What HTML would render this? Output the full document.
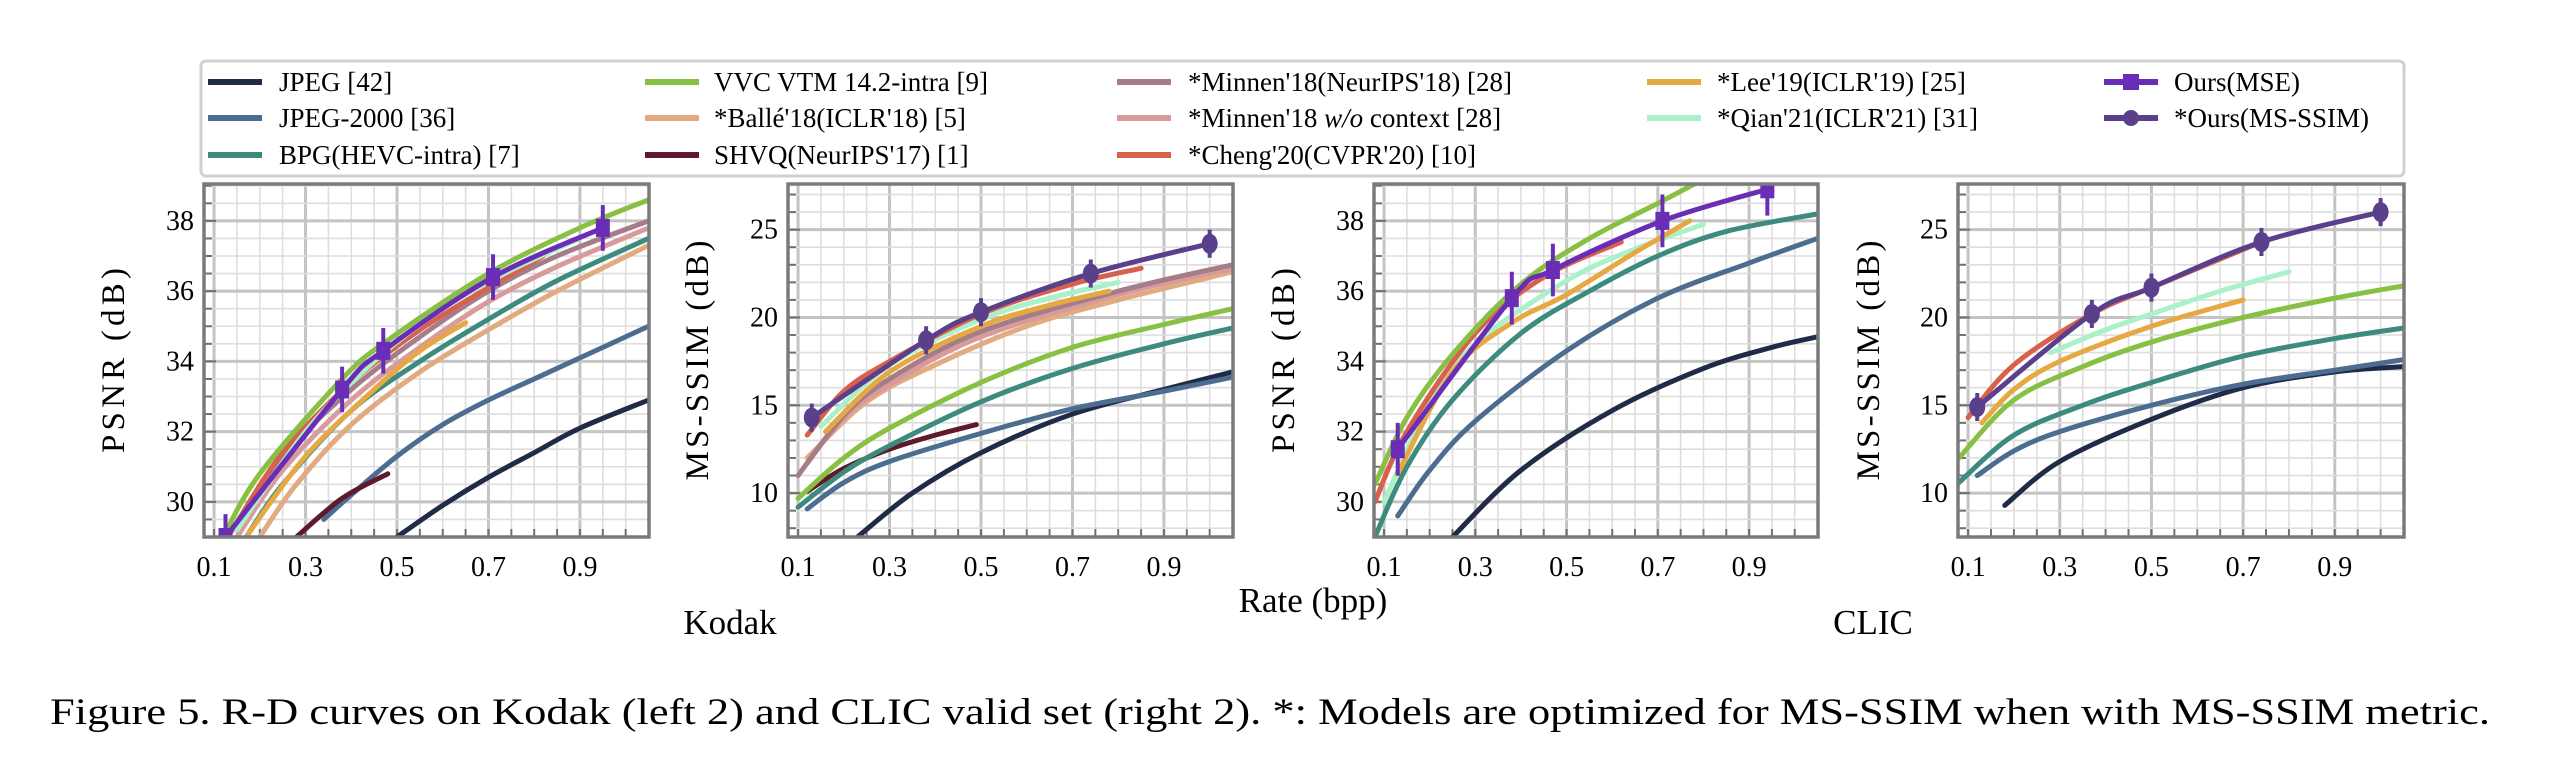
<!DOCTYPE html>
<html><head><meta charset="utf-8">
<style>
html,body{margin:0;padding:0;background:#fff;}
svg{display:block;font-family:"Liberation Serif",serif;}
</style></head>
<body>
<svg id="fig" width="2558" height="758" viewBox="0 0 2558 758" xmlns="http://www.w3.org/2000/svg">
  <g>
    <rect x="201" y="61" width="2203" height="115" rx="5" fill="#fff" stroke="#d0d0d0" stroke-width="3"/>
    <g id="legend-items"></g>
  </g>
  <g id="panels"></g>
  <text x="730" y="634" font-size="35" text-anchor="middle">Kodak</text>
  <text x="1313" y="612" font-size="35" text-anchor="middle">Rate (bpp)</text>
  <text x="1873" y="634" font-size="35" text-anchor="middle">CLIC</text>
  <text x="50" y="724" font-size="37" textLength="2440" lengthAdjust="spacingAndGlyphs">Figure 5. R-D curves on Kodak (left 2) and CLIC valid set (right 2). *: Models are optimized for MS-SSIM when with MS-SSIM metric.</text>
</svg>
<script>
// ---- series names / colors ----
const seriesNames = ["JPEG [42]","JPEG-2000 [36]","BPG(HEVC-intra) [7]","VVC VTM 14.2-intra [9]","*Ballé'18(ICLR'18) [5]","SHVQ(NeurIPS'17) [1]","*Minnen'18(NeurIPS'18) [28]","*Minnen'18 w/o context [28]","*Cheng'20(CVPR'20) [10]","*Lee'19(ICLR'19) [25]","*Qian'21(ICLR'21) [31]","Ours(MSE)","*Ours(MS-SSIM)"];
const seriesColors = ["#1f2b47","#4c6d8f","#3d8a7f","#88c043","#e2aa80","#5e1a2c","#a57d88","#d99a9c","#d9604b","#e6a843","#aaf0c9","#6a2db5","#5a408a"];

// ---- data per panel: [x values, y values] ----
// Panel 1: Kodak PSNR
const k1_jpeg_x=[0.5,0.6,0.7,0.8,0.9,1.05], k1_jpeg_y=[29.0,29.9,30.7,31.4,32.1,32.9];
const k1_j2k_x=[0.34,0.4,0.5,0.6,0.7,0.8,0.9,1.05], k1_j2k_y=[29.5,30.2,31.3,32.2,32.9,33.5,34.1,35.0];
const k1_bpg_x=[0.17,0.25,0.4,0.55,0.7,0.85,1.05], k1_bpg_y=[29.0,30.5,32.6,34.0,35.2,36.3,37.5];
const k1_vvc_x=[0.12,0.2,0.38,0.48,0.7,0.9,1.05], k1_vvc_y=[29.0,30.8,33.5,34.6,36.5,37.8,38.6];
const k1_balle_x=[0.2,0.28,0.4,0.55,0.7,0.85,1.05], k1_balle_y=[29.0,30.5,32.2,33.7,34.9,36.0,37.3];
const k1_shvq_x=[0.28,0.38,0.48], k1_shvq_y=[29.0,30.1,30.8];
const k1_minnen_x=[0.13,0.25,0.4,0.55,0.7,0.85,1.05], k1_minnen_y=[29.0,31.3,33.2,34.7,36.0,37.0,38.0];
const k1_minnenwo_x=[0.15,0.25,0.4,0.55,0.7,0.85,1.05], k1_minnenwo_y=[29.0,30.9,32.9,34.4,35.7,36.7,37.8];
const k1_cheng_x=[0.14,0.25,0.4,0.55,0.7,0.82], k1_cheng_y=[29.2,31.4,33.4,34.9,36.1,37.0];
const k1_lee_x=[0.17,0.3,0.45,0.55,0.65], k1_lee_y=[29.0,31.3,33.2,34.3,35.1];
const k1_qian_x=[0.15,0.3,0.45,0.6,0.75,0.9], k1_qian_y=[29.2,32.0,34.0,35.5,36.6,37.5];
const k1_ours_x=[0.125,0.38,0.47,0.71,0.95], k1_ours_y=[29.0,33.2,34.3,36.4,37.8];
// Panel 2: Kodak MS-SSIM
const k2_jpeg_x=[0.23,0.35,0.5,0.7,0.9,1.05], k2_jpeg_y=[7.5,10.0,12.3,14.5,15.9,16.9];
const k2_j2k_x=[0.12,0.2,0.3,0.5,0.7,0.9,1.05], k2_j2k_y=[9.1,10.6,11.8,13.4,14.8,15.8,16.6];
const k2_bpg_x=[0.1,0.2,0.3,0.5,0.7,0.9,1.05], k2_bpg_y=[9.2,11.2,12.7,15.2,17.1,18.5,19.4];
const k2_vvc_x=[0.1,0.2,0.3,0.5,0.7,0.9,1.05], k2_vvc_y=[9.7,12.0,13.7,16.3,18.3,19.6,20.5];
const k2_balle_x=[0.12,0.25,0.4,0.6,0.8,1.05], k2_balle_y=[12.0,15.2,17.3,19.5,21.0,22.6];
const k2_shvq_x=[0.12,0.2,0.3,0.4,0.49], k2_shvq_y=[10.1,11.4,12.5,13.3,13.9];
const k2_minnen_x=[0.1,0.2,0.3,0.5,0.8,1.05], k2_minnen_y=[11.0,14.4,16.5,19.2,21.5,23.0];
const k2_minnenwo_x=[0.12,0.2,0.3,0.5,0.8,1.05], k2_minnenwo_y=[11.7,14.3,16.2,18.9,21.3,22.8];
const k2_cheng_x=[0.12,0.2,0.3,0.5,0.7,0.85], k2_cheng_y=[13.3,15.8,17.5,20.2,21.9,22.8];
const k2_lee_x=[0.16,0.3,0.5,0.65,0.78], k2_lee_y=[13.5,16.9,19.5,20.7,21.5];
const k2_qian_x=[0.15,0.3,0.5,0.65,0.8], k2_qian_y=[13.8,17.3,19.9,21.1,22.0];
const k2_ours_x=[0.13,0.38,0.5,0.74,1.0], k2_ours_y=[14.3,18.7,20.3,22.5,24.2];
// Panel 3: CLIC PSNR
const c1_jpeg_x=[0.25,0.4,0.6,0.8,0.95,1.05], c1_jpeg_y=[29.0,30.9,32.6,33.8,34.4,34.7];
const c1_j2k_x=[0.13,0.2,0.3,0.5,0.7,0.9,1.05], c1_j2k_y=[29.6,30.9,32.3,34.3,35.8,36.8,37.5];
const c1_bpg_x=[0.08,0.15,0.25,0.4,0.55,0.7,0.85,1.05], c1_bpg_y=[29.0,31.0,32.9,34.8,36.0,37.0,37.7,38.2];
const c1_vvc_x=[0.08,0.15,0.25,0.4,0.55,0.7,0.78], c1_vvc_y=[30.5,32.4,34.2,36.2,37.5,38.5,39.05];
const c1_cheng_x=[0.08,0.15,0.3,0.45,0.62], c1_cheng_y=[30.0,32.0,34.8,36.4,37.4];
const c1_lee_x=[0.13,0.25,0.38,0.5,0.65,0.77], c1_lee_y=[30.8,33.7,35.1,35.9,37.1,38.0];
const c1_qian_x=[0.1,0.2,0.3,0.5,0.65,0.8], c1_qian_y=[30.0,32.8,34.5,36.3,37.2,37.9];
const c1_ours_x=[0.13,0.38,0.47,0.71,0.94], c1_ours_y=[31.5,35.8,36.6,38.0,38.9];
// Panel 4: CLIC MS-SSIM
const c2_jpeg_x=[0.18,0.3,0.5,0.7,0.9,1.05], c2_jpeg_y=[9.3,11.8,14.2,16.0,16.9,17.2];
const c2_j2k_x=[0.12,0.2,0.3,0.5,0.7,0.9,1.05], c2_j2k_y=[11.0,12.4,13.5,15.0,16.2,17.0,17.6];
const c2_bpg_x=[0.08,0.2,0.35,0.5,0.7,0.9,1.05], c2_bpg_y=[10.6,13.3,15.0,16.3,17.8,18.8,19.4];
const c2_vvc_x=[0.08,0.2,0.35,0.5,0.7,0.9,1.05], c2_vvc_y=[12.0,15.3,17.2,18.6,20.0,21.1,21.8];
const c2_cheng_x=[0.1,0.2,0.37,0.5,0.74], c2_cheng_y=[14.3,17.3,20.2,21.7,24.3];
const c2_lee_x=[0.13,0.2,0.3,0.5,0.7], c2_lee_y=[14.0,15.9,17.5,19.5,21.0];
const c2_qian_x=[0.28,0.4,0.5,0.65,0.8], c2_qian_y=[18.0,19.3,20.2,21.5,22.6];
const c2_ours_x=[0.12,0.37,0.5,0.74,1.0], c2_ours_y=[14.9,20.2,21.7,24.3,26.0];

// ---- ticks ----
const xTickLabels=["0.1","0.3","0.5","0.7","0.9"];
const psnrTickLabels=["30","32","34","36","38"];
const ssimTickLabels=["10","15","20","25"];

const NS="http://www.w3.org/2000/svg";
function mk(tag,attrs,parent){const e=document.createElementNS(NS,tag);for(const k in attrs)e.setAttribute(k,attrs[k]);if(parent)parent.appendChild(e);return e;}

// legend
const leg=document.getElementById('legend-items');
const colX=[[208,279],[645,714],[1117,1188],[1647,1717],[2104,2174]];
const rowY=[82,118,155];
const order=[[0,1,2],[3,4,5],[6,7,8],[9,10],[11,12]];
order.forEach((col,ci)=>col.forEach((si,ri)=>{
  const g=mk('g',{},leg);
  
  
  const y=rowY[ri];
  mk('line',{x1:colX[ci][0],x2:colX[ci][0]+54,y1:y,y2:y,stroke:seriesColors[si],'stroke-width':6},g);
  if(si===11) mk('rect',{x:colX[ci][0]+19,y:y-8,width:16,height:16,fill:seriesColors[si]},g);
  if(si===12) mk('circle',{cx:colX[ci][0]+27,cy:y,r:8,fill:seriesColors[si]},g);
  const t=mk('text',{x:colX[ci][1],y:y+9,'font-size':27},g);
  if(si===7){t.textContent="*Minnen'18 ";const it=mk('tspan',{'font-style':'italic'},t);it.textContent="w/o";t.appendChild(document.createTextNode(" context [28]"));}
  else t.textContent=seriesNames[si];
}));

const panels=[
 {name:'kodak-psnr',x0:204,x1:649,ylab:'PSNR (dB)',ylx:124,ymin:29.0,ymax:39.05,major:[30,32,34,36,38],labels:psnrTickLabels,minorStep:0.5,err:0.65,
  series:[[0,k1_jpeg_x,k1_jpeg_y],[1,k1_j2k_x,k1_j2k_y],[5,k1_shvq_x,k1_shvq_y],[4,k1_balle_x,k1_balle_y],[2,k1_bpg_x,k1_bpg_y],[7,k1_minnenwo_x,k1_minnenwo_y],[6,k1_minnen_x,k1_minnen_y],[9,k1_lee_x,k1_lee_y],[8,k1_cheng_x,k1_cheng_y],[3,k1_vvc_x,k1_vvc_y],[10,k1_qian_x,k1_qian_y],[11,k1_ours_x,k1_ours_y]]},
 {name:'kodak-msssim',x0:788,x1:1233,ylab:'MS-SSIM (dB)',ylx:708,ymin:7.5,ymax:27.6,major:[10,15,20,25],labels:ssimTickLabels,minorStep:1,err:0.8,
  series:[[0,k2_jpeg_x,k2_jpeg_y],[1,k2_j2k_x,k2_j2k_y],[5,k2_shvq_x,k2_shvq_y],[2,k2_bpg_x,k2_bpg_y],[3,k2_vvc_x,k2_vvc_y],[4,k2_balle_x,k2_balle_y],[7,k2_minnenwo_x,k2_minnenwo_y],[6,k2_minnen_x,k2_minnen_y],[9,k2_lee_x,k2_lee_y],[10,k2_qian_x,k2_qian_y],[8,k2_cheng_x,k2_cheng_y],[12,k2_ours_x,k2_ours_y]]},
 {name:'clic-psnr',x0:1374,x1:1818,ylab:'PSNR (dB)',ylx:1294,ymin:29.0,ymax:39.05,major:[30,32,34,36,38],labels:psnrTickLabels,minorStep:0.5,err:0.75,
  series:[[0,c1_jpeg_x,c1_jpeg_y],[1,c1_j2k_x,c1_j2k_y],[2,c1_bpg_x,c1_bpg_y],[10,c1_qian_x,c1_qian_y],[9,c1_lee_x,c1_lee_y],[8,c1_cheng_x,c1_cheng_y],[3,c1_vvc_x,c1_vvc_y],[11,c1_ours_x,c1_ours_y]]},
 {name:'clic-msssim',x0:1958,x1:2404,ylab:'MS-SSIM (dB)',ylx:1879,ymin:7.5,ymax:27.6,major:[10,15,20,25],labels:ssimTickLabels,minorStep:1,err:0.8,
  series:[[0,c2_jpeg_x,c2_jpeg_y],[1,c2_j2k_x,c2_j2k_y],[2,c2_bpg_x,c2_bpg_y],[3,c2_vvc_x,c2_vvc_y],[9,c2_lee_x,c2_lee_y],[10,c2_qian_x,c2_qian_y],[8,c2_cheng_x,c2_cheng_y],[12,c2_ours_x,c2_ours_y]]}
];
const XMIN=0.078,XMAX=1.051,Y0=184,Y1=537;
const host=document.getElementById('panels');
function pathFrom(pts){
  let d='M'+pts[0][0]+','+pts[0][1];
  for(let i=0;i<pts.length-1;i++){
    const p0=pts[i-1]||pts[i],p1=pts[i],p2=pts[i+1],p3=pts[i+2]||p2;
    const c1=[p1[0]+(p2[0]-p0[0])/6,p1[1]+(p2[1]-p0[1])/6];
    const c2=[p2[0]-(p3[0]-p1[0])/6,p2[1]-(p3[1]-p1[1])/6];
    d+=' C'+c1[0]+','+c1[1]+' '+c2[0]+','+c2[1]+' '+p2[0]+','+p2[1];
  }
  return d;
}
panels.forEach((P,pi)=>{
  const g=mk('g',{},host);
  
  
  const sx=v=>P.x0+(v-XMIN)/(XMAX-XMIN)*(P.x1-P.x0);
  const sy=v=>Y1-(v-P.ymin)/(P.ymax-P.ymin)*(Y1-Y0);
  const cid='clip'+pi;
  const cp=mk('clipPath',{id:cid},g);mk('rect',{x:P.x0,y:Y0,width:P.x1-P.x0,height:Y1-Y0},cp);
  mk('rect',{x:P.x0,y:Y0,width:P.x1-P.x0,height:Y1-Y0,fill:'#fff'},g);
  const grid=mk('g',{'clip-path':'url(#'+cid+')'},g);
  
  
  for(let k=2;k<=21;k++){const v=k*0.05;const x=sx(v);const maj=Math.abs((v*10)%2-1)<0.01;
    mk('line',{x1:x,x2:x,y1:Y0,y2:Y1,stroke:maj?'#c4c4c4':'#dedede','stroke-width':maj?3:1.6},grid);}
  for(let v=Math.ceil(P.ymin/P.minorStep)*P.minorStep;v<=P.ymax;v+=P.minorStep){const y=sy(v);const maj=P.major.some(m=>Math.abs(m-v)<1e-6);
    mk('line',{x1:P.x0,x2:P.x1,y1:y,y2:y,stroke:maj?'#c4c4c4':'#dedede','stroke-width':maj?3:1.6},grid);
    mk('line',{x1:P.x0,x2:P.x0+(maj?12:8),y1:y,y2:y,stroke:'#707070','stroke-width':2},g);}
  for(let k=2;k<=21;k++){const x=sx(k*0.05);mk('line',{x1:x,x2:x,y1:Y1,y2:Y1-8,stroke:'#707070','stroke-width':2},g);}
  P.major.forEach((v,i)=>{const t=mk('text',{x:P.x0-10,y:sy(v)+9,'font-size':28,'text-anchor':'end'},g);t.textContent=P.labels[i];
    
    });
  xTickLabels.forEach(s=>{const t=mk('text',{x:sx(parseFloat(s)),y:576,'font-size':28,'text-anchor':'middle'},g);t.textContent=s;
    
    });
  const L=P.ylab.length>10?240:185;
  const yl=mk('text',{x:P.ylx,y:(Y0+Y1)/2,'font-size':33,'text-anchor':'middle',textLength:L,lengthAdjust:'spacing',transform:'rotate(-90 '+P.ylx+' '+(Y0+Y1)/2+')'},g);
  yl.textContent=P.ylab;
  
  
  const sg=mk('g',{'clip-path':'url(#'+cid+')'},g);
  P.series.forEach(([si,xs,ys])=>{
    const pts=xs.map((x,i)=>[sx(x),sy(ys[i])]);
    const p=mk('path',{d:pathFrom(pts),fill:'none',stroke:seriesColors[si],'stroke-width':5,'stroke-linecap':'round'},sg);
    
    
    if(si>=11){
      xs.forEach((x,i)=>{
        const cx=sx(x),cy=sy(ys[i]);
        mk('line',{x1:cx,x2:cx,y1:sy(ys[i]+P.err),y2:sy(ys[i]-P.err),stroke:seriesColors[si],'stroke-width':4},sg);
        const m=si===11?mk('rect',{x:cx-7,y:cy-9,width:14,height:18,fill:seriesColors[si]},sg):mk('ellipse',{cx:cx,cy:cy,rx:8,ry:10,fill:seriesColors[si]},sg);
        
        
      });
    }
  });
  mk('rect',{x:P.x0,y:Y0,width:P.x1-P.x0,height:Y1-Y0,fill:'none',stroke:'#7a7a7a','stroke-width':3.5},g);
});
</script>
</body></html>
